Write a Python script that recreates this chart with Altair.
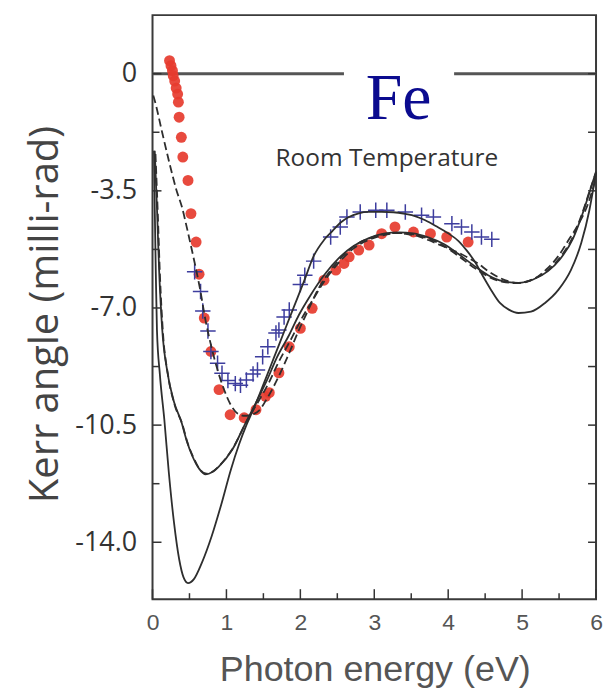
import altair as alt
import pandas as pd

# ---------------- data ----------------
red_x = [0.23, 0.25, 0.27, 0.28, 0.30, 0.32, 0.34, 0.35, 0.36, 0.39, 0.41, 0.48, 0.52, 0.59, 0.63,
         0.70, 0.79, 0.90, 1.05, 1.24, 1.40, 1.53, 1.58, 1.71, 1.85, 2.00, 2.16, 2.32, 2.48, 2.59,
         2.66, 2.79, 2.93, 3.10, 3.28, 3.53, 3.76, 3.98, 4.27]
red_y = [0.39, 0.24, 0.09, -0.06, -0.22, -0.43, -0.61, -0.85, -1.30, -1.90, -2.49, -3.19, -4.18, -5.03, -5.99,
         -7.30, -8.30, -9.44, -10.19, -10.28, -10.04, -9.64, -9.53, -8.94, -8.16, -7.61, -7.01, -6.17, -5.87, -5.67,
         -5.47, -5.27, -5.12, -4.78, -4.58, -4.73, -4.78, -4.88, -5.03]

blue_x = [0.57, 0.65, 0.68, 0.75, 0.79, 0.88, 0.94, 1.02, 1.12, 1.19, 1.27, 1.36, 1.42, 1.49, 1.56,
          1.67, 1.71, 1.78, 1.85, 2.00, 2.06, 2.18, 2.41, 2.54, 2.63, 2.81, 3.02, 3.17, 3.42, 3.64,
          3.80, 4.05, 4.18, 4.32, 4.45, 4.59]
blue_y = [-5.92, -6.51, -7.09, -7.69, -8.30, -8.65, -8.95, -9.17, -9.26, -9.31, -9.15, -8.97, -8.85, -8.46, -8.16,
          -7.75, -7.66, -7.27, -7.06, -6.30, -6.02, -5.60, -4.88, -4.58, -4.28, -4.13, -4.08, -4.08, -4.13, -4.23,
          -4.28, -4.48, -4.58, -4.73, -4.88, -4.95]

s1_x = [0.02, 0.03, 0.045, 0.06, 0.10, 0.16, 0.22, 0.29, 0.36, 0.42, 0.48, 0.56, 0.67, 0.80, 0.93,
        1.06, 1.17, 1.27, 1.37, 1.51, 1.64, 1.78, 1.91, 2.05, 2.18, 2.32, 2.43, 2.55, 2.65, 2.79,
        2.92, 3.10, 3.26, 3.42, 3.56, 3.69, 3.84, 4.00, 4.14, 4.25, 4.37, 4.45, 4.58, 4.70, 4.82,
        4.95, 5.12, 5.31, 5.49, 5.66, 5.80, 5.91, 6.00]
s1_y = [-2.3, -4.0, -6.0, -7.66, -9.0, -10.34, -11.9, -13.4, -14.5, -15.05, -15.22, -15.1, -14.6, -13.82, -12.87,
        -11.83, -11.08, -10.5, -10.0, -9.23, -8.50, -7.71, -6.98, -6.20, -5.45, -4.97, -4.71, -4.44, -4.29, -4.17,
        -4.13, -4.13, -4.14, -4.19, -4.26, -4.38, -4.56, -4.77, -5.00, -5.28, -5.65, -5.97, -6.46, -6.85, -7.05,
        -7.15, -7.11, -6.85, -6.46, -5.87, -5.06, -4.08, -2.95]

s2_x = [0.03, 0.06, 0.09, 0.13, 0.20, 0.29, 0.39, 0.46, 0.54, 0.63, 0.72, 0.81, 0.90, 1.08, 1.26,
        1.42, 1.55, 1.68, 1.85, 1.98, 2.14, 2.32, 2.52, 2.72, 2.92, 3.13, 3.33, 3.53, 3.73, 3.94,
        4.14, 4.34, 4.54, 4.74, 4.95, 5.15, 5.35, 5.51, 5.69, 5.82, 5.92, 6.00]
s2_y = [-2.3, -4.0, -5.9, -7.6, -8.9, -9.8, -10.4, -10.95, -11.43, -11.8, -11.97, -11.9, -11.73, -11.23, -10.43,
        -9.74, -9.15, -8.49, -7.80, -7.21, -6.61, -6.02, -5.51, -5.15, -4.92, -4.78, -4.74, -4.77, -4.89, -5.09,
        -5.39, -5.72, -6.02, -6.20, -6.25, -6.15, -5.90, -5.55, -4.92, -4.17, -3.49, -2.92]

d1_x = [0.04, 0.07, 0.10, 0.14, 0.21, 0.30, 0.40, 0.47, 0.55, 0.64, 0.73, 0.82, 0.91, 1.09, 1.27,
        1.43, 1.57, 1.71, 1.87, 2.01, 2.17, 2.34, 2.53, 2.72, 2.92, 3.13, 3.33, 3.53, 3.73, 3.94,
        4.14, 4.34, 4.54, 4.74, 4.95, 5.15, 5.35, 5.51, 5.69, 5.82, 5.92, 6.00]
d1_y = [-2.4, -4.1, -6.0, -7.7, -9.0, -9.9, -10.45, -11.0, -11.45, -11.82, -11.95, -11.88, -11.7, -11.18, -10.4,
        -9.8, -9.25, -8.6, -7.95, -7.35, -6.75, -6.15, -5.62, -5.22, -4.97, -4.82, -4.76, -4.80, -4.93, -5.14,
        -5.45, -5.78, -6.06, -6.22, -6.26, -6.14, -5.87, -5.50, -4.86, -4.13, -3.46, -2.95]

d2_x = [0.01, 0.03, 0.13, 0.23, 0.32, 0.40, 0.48, 0.57, 0.64, 0.72, 0.79, 0.86, 0.97, 1.06, 1.15,
        1.25, 1.35, 1.44, 1.51, 1.58, 1.71, 1.85, 1.98, 2.12, 2.25, 2.39, 2.52, 2.66, 2.79, 2.93,
        3.06, 3.19, 3.33, 3.46, 3.60, 3.73, 3.87, 4.00, 4.14, 4.27, 4.41, 4.54, 4.68, 4.81, 4.95,
        5.08, 5.22, 5.35, 5.49, 5.62, 5.76, 5.89, 6.00]
d2_y = [-0.65, -0.80, -1.75, -2.68, -3.45, -4.0, -4.75, -5.65, -6.4, -7.4, -8.1, -8.7, -9.45, -9.9, -10.15,
        -10.22, -10.18, -10.07, -9.85, -9.59, -9.03, -8.34, -7.66, -7.00, -6.40, -5.93, -5.57, -5.27, -5.06, -4.92,
        -4.83, -4.77, -4.76, -4.80, -4.86, -4.97, -5.10, -5.22, -5.35, -5.50, -5.68, -5.90, -6.08, -6.20, -6.25,
        -6.20, -6.05, -5.80, -5.45, -5.00, -4.50, -3.90, -3.10]

x_ticks = [0, 1, 2, 3, 4, 5, 6]
x_tick_labels = ["0", "1", "2", "3", "4", "5", "6"]
x_minor = [0.5, 1.5, 2.5, 3.5, 4.5, 5.5]
y_ticks = [0, -3.5, -7.0, -10.5, -14.0]
y_tick_labels = ["0", "-3.5", "-7.0", "-10.5", "-14.0"]
y_minor = [-1.75, -5.25, -8.75, -12.25]

zero_start = [0.0, 4.08]
zero_end = [2.59, 6.0]
zero_level = [0.0, 0.0]

X_DOMAIN = [0, 6]
Y_DOMAIN = [-15.7, 1.75]
W, H = 445, 586

# ---------------- tables ----------------
red_df = pd.DataFrame({"x": red_x, "y": red_y})
blue_df = pd.DataFrame({"x": blue_x, "y": blue_y})


def curve(name, xs, ys):
    return pd.DataFrame({"x": xs, "y": ys, "series": name, "i": range(len(xs))})


solid_df = pd.concat([curve("s1", s1_x, s1_y), curve("s2", s2_x, s2_y)])
dashed_df = pd.concat([curve("d1", d1_x, d1_y), curve("d2", d2_x, d2_y)])
zero_df = pd.DataFrame({"x": zero_start, "x1": zero_end, "y": zero_level})
xt_df = pd.DataFrame({"x": x_ticks})
xm_df = pd.DataFrame({"x": x_minor})
yt_df = pd.DataFrame({"y": y_ticks})
ym_df = pd.DataFrame({"y": y_minor})


def expr_from(values, labels):
    e = "''"
    for v, l in reversed(list(zip(values, labels))):
        e = f"(abs(datum.value - ({v})) < 1e-6 ? '{l}' : {e})"
    return e


xs = alt.Scale(domain=X_DOMAIN, nice=False, zero=False)
ys = alt.Scale(domain=Y_DOMAIN, nice=False, zero=False)

x_axis = alt.Axis(
    values=x_ticks, labelExpr=expr_from(x_ticks, x_tick_labels), ticks=False, domain=False, grid=False,
    labelFont="Liberation Sans", labelFontSize=23, labelColor="#555", labelPadding=12, labelFlush=False,
    title="Photon energy (eV)", titleFont="Liberation Sans", titleFontSize=36, titleFontWeight="normal",
    titleColor="#555", titleX=223, titleY=82, titleBaseline="alphabetic", titleAlign="center",
)
y_axis = alt.Axis(
    values=y_ticks, labelExpr=expr_from(y_ticks, y_tick_labels), ticks=False, domain=False, grid=False,
    labelFont="Open Sans", labelFontSize=27, labelColor="#333", labelPadding=16,
    title="Kerr angle (milli-rad)", titleFont="Open Sans", titleFontSize=40, titleFontWeight="normal",
    titleColor="#444", titleX=-95, titleY=300, titleAngle=270, titleBaseline="alphabetic", titleAlign="center",
)

X = alt.X("x:Q", scale=xs, axis=x_axis)
Y = alt.Y("y:Q", scale=ys, axis=y_axis)

zero = alt.Chart(zero_df).mark_rule(color="#555", strokeWidth=3).encode(x=X, x2="x1:Q", y=Y)

dots = alt.Chart(red_df).mark_circle(size=120, color="#e63b2e", opacity=0.92).encode(x=X, y=Y)

CROSS = "M-1,0L1,0M0,-1L0,1"
crosses = alt.Chart(blue_df).mark_point(shape=CROSS, filled=False, size=240, strokeWidth=1.5,
                                        color="#3d3d9e", opacity=1).encode(x=X, y=Y)

LINE_C = "#2e2e2e"
solid = alt.Chart(solid_df).mark_line(color=LINE_C, strokeWidth=1.8, interpolate="monotone").encode(
    x=X, y=Y, detail="series:N", order="i:Q"
)
dashed = alt.Chart(dashed_df).mark_line(color=LINE_C, strokeWidth=1.8, strokeDash=[8, 4],
                                        interpolate="monotone").encode(
    x=X, y=Y, detail="series:N", order="i:Q"
)

TICK_C = "#333"
xt = alt.Chart(xt_df).mark_rule(color=TICK_C, strokeWidth=1.5).encode(
    x=X, y=alt.value(H), y2=alt.value(H - 10))
xm = alt.Chart(xm_df).mark_rule(color=TICK_C, strokeWidth=1.5).encode(
    x=X, y=alt.value(H), y2=alt.value(H - 6))
ytl = alt.Chart(yt_df).mark_rule(color=TICK_C, strokeWidth=1.5).encode(
    y=Y, x=alt.value(0), x2=alt.value(9))
yml = alt.Chart(ym_df).mark_rule(color=TICK_C, strokeWidth=1.5).encode(
    y=Y, x=alt.value(0), x2=alt.value(7))
ytr = alt.Chart(yt_df).mark_rule(color=TICK_C, strokeWidth=1.5).encode(
    y=Y, x=alt.value(W), x2=alt.value(W - 8))
ymr = alt.Chart(ym_df).mark_rule(color=TICK_C, strokeWidth=1.5).encode(
    y=Y, x=alt.value(W), x2=alt.value(W - 8))

label_df = pd.DataFrame({"x": [3.33], "y": [-1.34], "t": ["Fe"]})
fe = alt.Chart(label_df).mark_text(font="Liberation Serif", fontSize=66, color="#0b0b8f",
                                   align="center", baseline="alphabetic").encode(x=X, y=Y, text="t:N")
rt_df = pd.DataFrame({"x": [3.17], "y": [-2.77], "t": ["Room Temperature"]})
rt = alt.Chart(rt_df).mark_text(font="Open Sans", fontSize=24.5, color="#333",
                                align="center", baseline="alphabetic").encode(x=X, y=Y, text="t:N")

chart = alt.layer(
    zero, dots, crosses, solid, dashed, xt, xm, ytl, yml, ytr, ymr, fe, rt
).properties(
    width=W, height=H,
    padding={"left": 145, "top": 6, "right": 8, "bottom": 92},
    autosize=alt.AutoSizeParams(type="none"),
    background="white",
).configure_view(stroke="#3a3a3a", strokeWidth=2)

chart.save("out.html", embed_options={"renderer": "svg", "actions": False})
